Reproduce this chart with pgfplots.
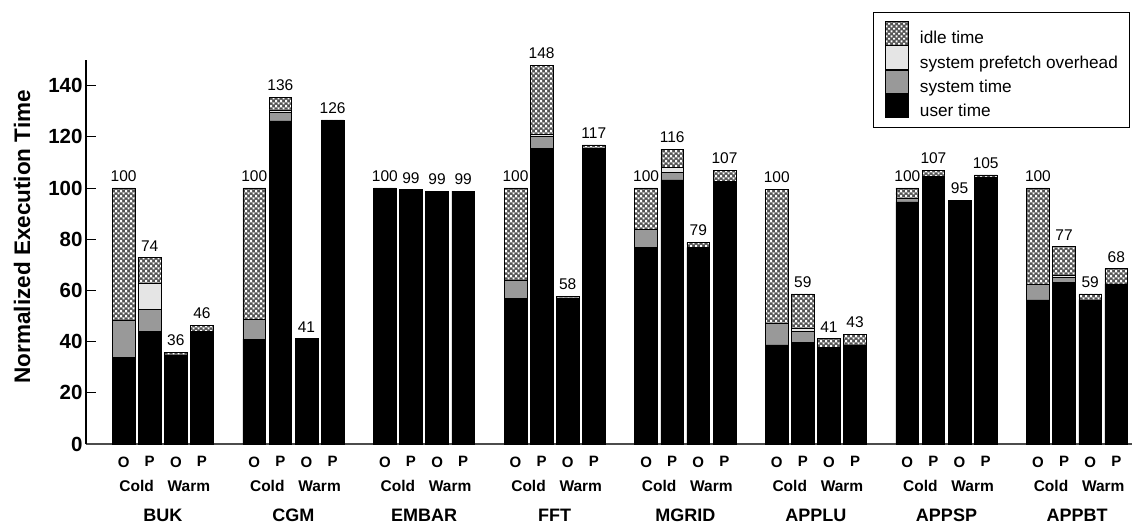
\documentclass[border=0pt]{standalone}
\usepackage{fontspec}
\setmainfont{Liberation Sans}
\usepackage{pgfplots}
\pgfplotsset{compat=1.18}
\usepackage{pgfplotstable}
\usetikzlibrary{patterns}

\definecolor{idlegray}{gray}{0.32}
\definecolor{sysgray}{gray}{0.60}
\definecolor{prefgray}{gray}{0.90}

\pgfdeclarepatterninherentlycolored{idlepat}{\pgfpointorigin}{\pgfqpoint{4.8pt}{4.8pt}}{\pgfqpoint{4.8pt}{4.8pt}}{%
  \pgfsetfillcolor{idlegray}%
  \pgfpathrectangle{\pgfpointorigin}{\pgfqpoint{4.8pt}{4.8pt}}\pgfusepath{fill}%
  \pgfsetfillcolor{white}%
  \pgfpathrectangle{\pgfqpoint{0.25pt}{0.25pt}}{\pgfqpoint{1.9pt}{1.9pt}}\pgfusepath{fill}%
  \pgfpathrectangle{\pgfqpoint{2.65pt}{2.65pt}}{\pgfqpoint{1.9pt}{1.9pt}}\pgfusepath{fill}%
}

\pgfplotstableread{
x  user  sys  pref  idle  lbl
0  33.9  14.5 0     51.6  100
1  44.1  8.5  10.2  10.1  74
2  34.5  0    0     1.3   36
3  43.9  0    0     2.5   46
5  41.0  7.7  0     51.3  100
6  126.2 3.4  0.9   5.0   136
7  40.8  0    0     0.5   41
8  126.0 0    0     0.6   126
10 99.2  0.2  0     0.6   100
11 99.2  0    0     0.2   99
12 98.8  0    0     0     99
13 98.8  0    0     0     99
15 56.9  6.9  0     36.2  100
16 115.6 4.4  1.1   26.9  148
17 57.0  0    0     0.7   58
18 115.6 0    0     1.2   117
20 76.9  7.0  0     16.1  100
21 103.2 2.8  2.1   7.1   116
22 76.7  0    0     2.1   79
23 102.7 0    0     4.3   107
25 38.7  8.4  0     52.5  100
26 39.6  4.3  1.3   13.4  59
27 37.8  0    0     3.5   41
28 38.7  0    0     4.2   43
30 94.6  1.4  0     4.0   100
31 104.2 0.5  0     2.3   107
32 95.2  0    0     0     95
33 104.3 0    0     0.8   105
35 56.3  6.2  0     37.5  100
36 63.0  2.0  1.0   11.1  77
37 56.0  0    0     2.6   59
38 62.5  0    0     6.1   68
}\datatable

\pgfplotsset{
  frame/.style={
    at={(86pt,81pt)}, anchor=south west,
    scale only axis, width=1046pt, height=384pt,
    xmin=-1.44, xmax=38.6, ymin=0, ymax=150, clip=false,
    /pgf/number format/assume math mode=true},
}

\begin{document}
\begin{tikzpicture}
\useasboundingbox (0,0) rectangle (1132pt,525pt);
\begin{axis}[
  frame,
  ybar stacked, bar width=22.7pt,
  axis lines=left,
  axis line style={-},
  x axis line style={draw=black!70, line width=1.5pt},
  y axis line style={draw=black, line width=2pt},
  ytick={0,20,...,140},
  tick align=inside,
  major tick length=10pt,
  ytick style={black, line width=0.8pt},
  xtick={0,1,2,3,5,6,7,8,10,11,12,13,15,16,17,18,20,21,22,23,25,26,27,28,30,31,32,33,35,36,37,38},
  xticklabels={O,P,O,P,O,P,O,P,O,P,O,P,O,P,O,P,O,P,O,P,O,P,O,P,O,P,O,P,O,P,O,P},
  xtick style={draw=none},
  yticklabel style={font=\bfseries\fontsize{20.5}{22}\selectfont},
  xticklabel style={font=\bfseries\fontsize{15}{17}\selectfont, yshift=-9pt},
  ylabel={Normalized Execution Time},
  every axis y label/.style={at={(axis description cs:-0.0612,0.54)}, rotate=90, anchor=center, font=\bfseries\fontsize{22.5}{24}\selectfont},
  legend style={at={(axis description cs:0.7524,1.1258)}, anchor=north west,
    draw=black, line width=0.8pt, inner xsep=12pt, inner ysep=9pt,
    font=\fontsize{17.2}{19}\selectfont, row sep=0pt, column sep=11pt,
    nodes={inner sep=0pt}, cells={anchor=west}},
  legend image code/.code={\draw[#1, draw=black, line width=0.6pt] (0pt,-6.5pt) rectangle (23pt,17pt);},
  reverse legend,
]
\addplot+[fill=black, draw=black, line width=0.6pt] table[x=x, y=user] {\datatable};
\addplot+[fill=sysgray, draw=black, line width=0.6pt] table[x=x, y=sys] {\datatable};
\addplot+[fill=prefgray, draw=black, line width=0.6pt] table[x=x, y=pref] {\datatable};
\addplot+[pattern=idlepat, draw=black, line width=0.6pt] table[x=x, y=idle] {\datatable};
\legend{user time, system time, system prefetch overhead, idle time}
\pgfplotsinvokeforeach{0,...,7}{
  \node[font=\bfseries\fontsize{15.5}{17}\selectfont, yshift=-42pt] at (axis cs:{5*#1+0.5},0) {Cold};
  \node[font=\bfseries\fontsize{15.5}{17}\selectfont, yshift=-42pt] at (axis cs:{5*#1+2.5},0) {Warm};
}
\node[font=\bfseries\fontsize{18}{20}\selectfont, yshift=-71pt] at (axis cs:1.5,0) {BUK};
\node[font=\bfseries\fontsize{18}{20}\selectfont, yshift=-71pt] at (axis cs:6.5,0) {CGM};
\node[font=\bfseries\fontsize{18}{20}\selectfont, yshift=-71pt] at (axis cs:11.5,0) {EMBAR};
\node[font=\bfseries\fontsize{18}{20}\selectfont, yshift=-71pt] at (axis cs:16.5,0) {FFT};
\node[font=\bfseries\fontsize{18}{20}\selectfont, yshift=-71pt] at (axis cs:21.5,0) {MGRID};
\node[font=\bfseries\fontsize{18}{20}\selectfont, yshift=-71pt] at (axis cs:26.5,0) {APPLU};
\node[font=\bfseries\fontsize{18}{20}\selectfont, yshift=-71pt] at (axis cs:31.5,0) {APPSP};
\node[font=\bfseries\fontsize{18}{20}\selectfont, yshift=-71pt] at (axis cs:36.5,0) {APPBT};
\end{axis}
\begin{axis}[frame, hide axis]
\addplot[draw=none, mark=none, point meta=explicit,
  nodes near coords={\pgfmathprintnumber{\pgfplotspointmeta}},
  every node near coord/.append style={font=\fontsize{15.5}{17}\selectfont, text=black, inner sep=1pt, anchor=south, yshift=5pt}]
  table[x=x, y expr=\thisrow{user}+\thisrow{sys}+\thisrow{pref}+\thisrow{idle}, meta=lbl] {\datatable};
\end{axis}
\end{tikzpicture}
\end{document}
